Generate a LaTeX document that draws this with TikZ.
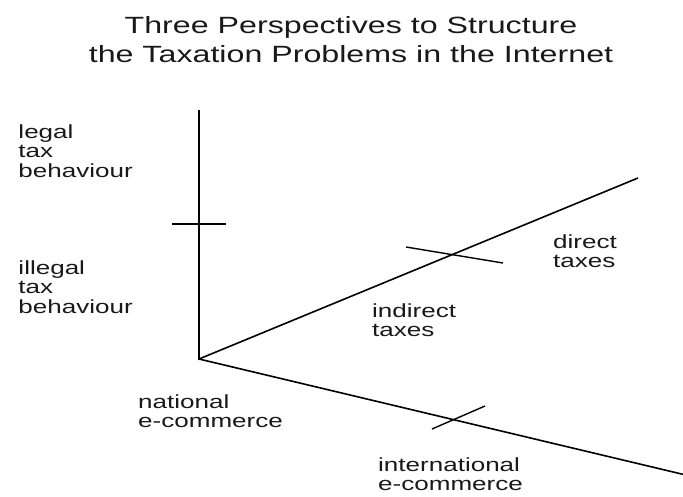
\documentclass[tikz,border=0pt]{standalone}
\usepackage{fontspec}
\setmainfont{Liberation Sans}
\newfontfamily\widefont[FakeStretch=1.37]{Liberation Sans}

\tikzset{
  axis/.style={line width=1.6pt, black},
  tick/.style={line width=1.4pt, black},
  lbl/.style={inner sep=0pt, align=left, text=black!90,
    font=\widefont\fontsize{19}{19.5}\selectfont},
}

\begin{document}
\begin{tikzpicture}[x=1pt, y=-1pt]
\useasboundingbox (0,0) rectangle (683,496);

\node[inner sep=0pt, align=center, text=black!90,
  font=\widefont\fontsize{23.5}{29}\selectfont] (title) at (351,40)
  {Three Perspectives to Structure\\the Taxation Problems in the Internet};

% Achsen
\coordinate (O) at (199,359);
\coordinate (V) at (199,110);
\coordinate (U) at (638,178);
\coordinate (L) at (690,476);
\draw[axis] (V) -- (O) -- (U);
\draw[axis] (O) -- (L);

% Markierungen
\coordinate (v1) at (172,224);
\coordinate (v2) at (226,224);
\coordinate (u1) at (406,247);
\coordinate (u2) at (503,263);
\coordinate (l1) at (432,429);
\coordinate (l2) at (485,406);
\draw[tick] (v1) -- (v2);
\draw[tick] (u1) -- (u2);
\draw[tick] (l1) -- (l2);

% Beschriftungen
\node[lbl, anchor=east] (legal) at (133,151) {legal\\tax\\behaviour};
\node[lbl, anchor=east] (illegal) at (133,287) {illegal\\tax\\behaviour};
\node[lbl, anchor=west] (direct) at (553,251) {direct\\taxes};
\node[lbl, anchor=west] (indirect) at (372,320) {indirect\\taxes};
\node[lbl, anchor=west] (national) at (138,411) {national\\e-commerce};
\node[lbl, anchor=west] (internat) at (378,474) {international\\e-commerce};

\end{tikzpicture}
\end{document}
